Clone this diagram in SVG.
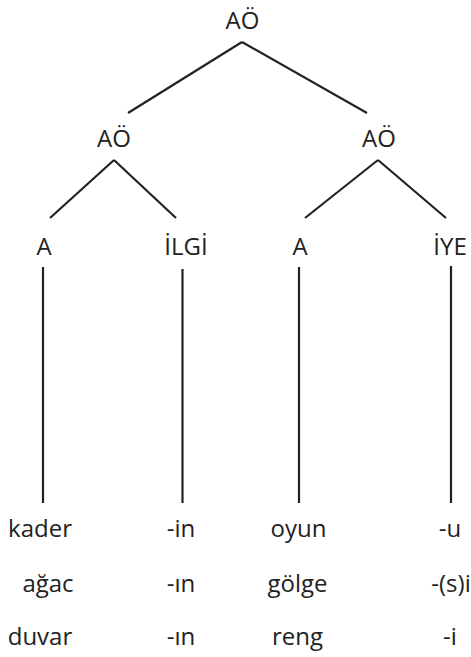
<svg xmlns="http://www.w3.org/2000/svg" width="471" height="657" viewBox="0 0 471 657">
<style>
text{font-family:"Open Sans","Noto Sans","DejaVu Sans",sans-serif;font-size:24px;fill:#222;text-anchor:middle}
.c line{stroke:#222;stroke-width:2.2;stroke-linecap:butt}
</style>
<rect width="471" height="657" fill="#fff"/>
<g class="c" id="connectors">
<line x1="242" y1="42" x2="128" y2="113"/>
<line x1="242" y1="42" x2="367" y2="113"/>
<line x1="114" y1="160" x2="50" y2="218"/>
<line x1="114" y1="160" x2="176" y2="218"/>
<line x1="378" y1="160" x2="305" y2="218"/>
<line x1="378" y1="160" x2="446" y2="218"/>
<line x1="43" y1="267" x2="43" y2="503"/>
<line x1="182.5" y1="269" x2="182.5" y2="503"/>
<line x1="299" y1="267" x2="299" y2="503"/>
<line x1="451" y1="266" x2="451" y2="503"/>
</g>
<g id="root"><text x="242.5" y="29">AÖ</text></g>
<g id="ao-left"><text x="114" y="147">AÖ</text></g>
<g id="ao-right"><text x="379" y="147">AÖ</text></g>
<g id="a-left"><text x="44" y="255">A</text></g>
<g id="ilgi"><text x="186" y="255">İLGİ</text></g>
<g id="a-right"><text x="300" y="255">A</text></g>
<g id="iye"><text x="450" y="255">İYE</text></g>
<g id="col1">
<text x="40" y="537">kader</text>
<text x="48" y="592">ağac</text>
<text x="40" y="645">duvar</text>
</g>
<g id="col2">
<text x="181" y="537">-in</text>
<text x="181" y="592">-ın</text>
<text x="181" y="645">-ın</text>
</g>
<g id="col3">
<text x="298.5" y="537">oyun</text>
<text x="297.5" y="592">gölge</text>
<text x="297.5" y="645">reng</text>
</g>
<g id="col4">
<text x="450" y="537">-u</text>
<text x="451" y="592">-(s)i</text>
<text x="450" y="645">-i</text>
</g>
</svg>
